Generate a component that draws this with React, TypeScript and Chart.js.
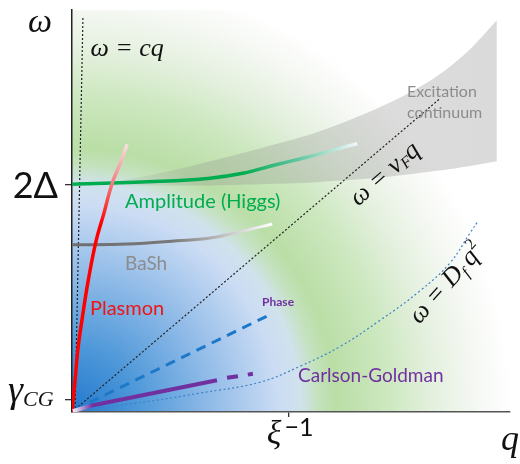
import React, { useEffect, useRef } from "react";
import { Chart, registerables } from "chart.js";
Chart.register(...registerables);

// ---------- data (axis units: q 0..10, ω 0..10) ----------
const X_RANGE = [0, 10];
const Y_RANGE = [0, 10];

const xTickValues = [4.95]; // ξ^-1
const yTickValues = [0.3, 5.67]; // γ_CG, 2Δ

const lightCone = [
  { x: 0.07, y: 0 },
  { x: 0.25, y: 9.83 },
];
const fermiLine = [
  { x: 0, y: 0 },
  { x: 8.4, y: 7.8 },
];
const diffusionCurve = [
  { x: 0, y: 0 },
  { x: 1.78, y: 0.27 },
  { x: 2.92, y: 0.47 },
  { x: 4.29, y: 0.74 },
  { x: 5.21, y: 1.14 },
  { x: 6.12, y: 1.63 },
  { x: 7.03, y: 2.28 },
  { x: 7.95, y: 3.02 },
  { x: 8.63, y: 3.71 },
  { x: 9.09, y: 4.46 },
  { x: 9.27, y: 4.75 },
];
const higgsMode = [
  { x: 0, y: 5.67 },
  { x: 2.01, y: 5.74 },
  { x: 3.15, y: 5.82 },
  { x: 3.9, y: 5.94 },
  { x: 4.68, y: 6.16 },
  { x: 5.43, y: 6.36 },
  { x: 6.51, y: 6.68 },
];
const bashMode = [
  { x: 0, y: 4.16 },
  { x: 1.26, y: 4.18 },
  { x: 2.4, y: 4.26 },
  { x: 3.15, y: 4.33 },
  { x: 3.9, y: 4.5 },
  { x: 4.57, y: 4.68 },
];
const plasmonMode = [
  { x: 0, y: 0 },
  { x: 0.07, y: 0.79 },
  { x: 0.14, y: 1.61 },
  { x: 0.25, y: 2.45 },
  { x: 0.37, y: 3.27 },
  { x: 0.55, y: 4.26 },
  { x: 0.73, y: 4.95 },
  { x: 0.91, y: 5.67 },
  { x: 1.1, y: 6.19 },
  { x: 1.26, y: 6.66 },
];
const phaseMode = [
  { x: 0.05, y: 0.05 },
  { x: 4.57, y: 2.45 },
];
const cgModeSolid = [
  { x: 0.02, y: 0.02 },
  { x: 0.48, y: 0.17 },
  { x: 3.31, y: 0.79 },
];
const cgModeDashed = [
  { x: 3.54, y: 0.85 },
  { x: 4.13, y: 0.95 },
];
const continuumX = [0.64, 2.01, 3.15, 4.29, 5.59, 7.1, 8.24, 9.02, 9.7];
const continuumLow = [5.64, 5.64, 5.64, 5.67, 5.72, 5.84, 5.99, 6.11, 6.24];
const continuumHigh = [5.67, 5.94, 6.24, 6.56, 6.96, 7.62, 8.29, 8.96, 9.75];

// ---------- styling ----------
const SERIF = '"Liberation Serif", "DejaVu Serif", serif';
const SANS = 'Lato, "Open Sans", sans-serif';
const GREEN = "rgb(0,172,80)";
const PURPLE = "rgb(112,48,160)";
const GRAY_TXT = "rgb(140,140,140)";

type Run = { t: string; font: string; dy?: number };

function drawRuns(
  ctx: CanvasRenderingContext2D,
  runs: Run[],
  x: number,
  y: number,
  align: "left" | "center" | "right",
  color: string
) {
  ctx.save();
  ctx.fillStyle = color;
  ctx.textBaseline = "alphabetic";
  ctx.textAlign = "left";
  let total = 0;
  const ws = runs.map((r) => {
    ctx.font = r.font;
    const w = ctx.measureText(r.t).width;
    total += w;
    return w;
  });
  let cx = align === "left" ? x : align === "center" ? x - total / 2 : x - total;
  runs.forEach((r, i) => {
    ctx.font = r.font;
    ctx.fillText(r.t, cx, y + (r.dy || 0));
    cx += ws[i];
  });
  ctx.restore();
}

type Note = {
  runs: Run[];
  x: number;
  y: number;
  color: string;
  align: "left" | "center" | "right";
  angle?: number;
  middle?: boolean;
};

const notes: Note[] = [
  { runs: [{ t: "ω = cq", font: `italic 26px ${SERIF}` }], x: 0.42, y: 8.85, color: "#111", align: "left" },
  { runs: [{ t: "Amplitude (Higgs)", font: `20px ${SANS}` }], x: 1.21, y: 5.25, color: GREEN, align: "left", middle: true },
  { runs: [{ t: "BaSh", font: `19px ${SANS}` }], x: 1.21, y: 3.71, color: GRAY_TXT, align: "left", middle: true },
  { runs: [{ t: "Plasmon", font: `20px ${SANS}` }], x: 0.41, y: 2.6, color: "rgb(240,20,20)", align: "left", middle: true },
  { runs: [{ t: "Phase", font: `bold 12px ${SANS}` }], x: 4.34, y: 2.8, color: PURPLE, align: "left", middle: true },
  { runs: [{ t: "Carlson-Goldman", font: `19px ${SANS}` }], x: 5.16, y: 0.92, color: PURPLE, align: "left", middle: true },
  { runs: [{ t: "Excitation", font: `16px ${SANS}` }], x: 7.65, y: 8.02, color: GRAY_TXT, align: "left", middle: true },
  { runs: [{ t: "continuum", font: `16px ${SANS}` }], x: 7.65, y: 7.48, color: GRAY_TXT, align: "left", middle: true },
  {
    runs: [
      { t: "ω = v", font: `italic 26px ${SERIF}` },
      { t: "F", font: `italic 16px ${SERIF}`, dy: 3 },
      { t: "q", font: `italic 26px ${SERIF}` },
    ],
    x: 7.15,
    y: 5.92,
    color: "#111",
    align: "center",
    angle: -41,
  },
  {
    runs: [
      { t: "ω = D", font: `italic 26px ${SERIF}` },
      { t: "f", font: `italic 16px ${SERIF}`, dy: 5 },
      { t: "\u2009q", font: `italic 26px ${SERIF}` },
      { t: "2", font: `16px ${SERIF}`, dy: -11 },
    ],
    x: 8.56,
    y: 3.2,
    color: "#111",
    align: "center",
    angle: -48,
  },
];

const bgPlugin = {
  id: "bgGradient",
  beforeDraw(chart: any) {
    const { ctx, chartArea: a, scales } = chart;
    if (!a) return;
    const cx = scales.x.getPixelForValue(0);
    const cy = scales.y.getPixelForValue(0);
    const R = 440;
    const g = ctx.createRadialGradient(cx, cy, 0, cx, cy, R);
    g.addColorStop(0, "rgb(35,120,205)");
    g.addColorStop(0.15, "rgb(78,152,217)");
    g.addColorStop(0.33, "rgb(150,190,233)");
    g.addColorStop(0.47, "rgb(203,220,244)");
    g.addColorStop(0.52, "rgb(208,226,236)");
    g.addColorStop(0.56, "rgb(196,226,190)");
    g.addColorStop(0.6, "rgb(186,222,166)");
    g.addColorStop(0.72, "rgb(205,232,192)");
    g.addColorStop(0.82, "rgb(228,240,222)");
    g.addColorStop(0.92, "rgb(245,248,243)");
    g.addColorStop(1, "rgb(255,255,255)");
    ctx.save();
    ctx.fillStyle = "#fff";
    ctx.fillRect(0, 0, chart.width, chart.height);
    ctx.fillStyle = g;
    ctx.fillRect(a.left, a.top, a.right - a.left, a.bottom - a.top);
    ctx.restore();
  },
};

const labelPlugin = {
  id: "mathLabels",
  afterDraw(chart: any) {
    const { ctx, chartArea: a, scales } = chart;
    const xs = scales.x;
    const ys = scales.y;
    // axis names
    drawRuns(ctx, [{ t: "ω", font: `italic 34px ${SERIF}` }], a.left - 32, a.top + 22, "center", "#111");
    drawRuns(ctx, [{ t: "q", font: `italic 36px ${SERIF}` }], a.right + 9, a.bottom + 38, "right", "#111");
    // y tick labels
    drawRuns(ctx, [{ t: "2Δ", font: `36px ${SANS}` }], a.left - 14, ys.getPixelForValue(yTickValues[1]) + 14, "right", "#111");
    drawRuns(
      ctx,
      [
        { t: "γ", font: `italic 38px ${SERIF}` },
        { t: "CG", font: `italic 22px ${SERIF}`, dy: 4 },
      ],
      a.left - 64,
      ys.getPixelForValue(yTickValues[0]) + 2,
      "left",
      "#111"
    );
    // x tick label
    drawRuns(
      ctx,
      [
        { t: "ξ", font: `italic 34px ${SERIF}` },
        { t: "\u2009−1", font: `25px ${SANS}`, dy: -8 },
      ],
      xs.getPixelForValue(xTickValues[0]) - 22,
      a.bottom + 32,
      "left",
      "#111"
    );
    // notes
    notes.forEach((n) => {
      const px = xs.getPixelForValue(n.x);
      const py = ys.getPixelForValue(n.y);
      if (n.angle !== undefined) {
        ctx.save();
        ctx.translate(px, py);
        ctx.rotate((n.angle * Math.PI) / 180);
        drawRuns(ctx, n.runs, 0, 7, n.align, n.color);
        ctx.restore();
      } else {
        drawRuns(ctx, n.runs, px, py + (n.middle ? 7 : 0), n.align, n.color);
      }
    });
  },
};

function hGrad(chart: any, x0: number, x1: number, stops: [number, string][], fallback: string) {
  const { chartArea, scales } = chart;
  if (!chartArea || !scales.x) return fallback;
  const p0 = scales.x.getPixelForValue(x0);
  const p1 = scales.x.getPixelForValue(x1);
  const g = chart.ctx.createLinearGradient(p0, 0, p1, 0);
  stops.forEach(([o, c]) => g.addColorStop(o, c));
  return g;
}
function vGrad(chart: any, y0: number, y1: number, stops: [number, string][], fallback: string) {
  const { chartArea, scales } = chart;
  if (!chartArea || !scales.y) return fallback;
  const p0 = scales.y.getPixelForValue(y0);
  const p1 = scales.y.getPixelForValue(y1);
  const g = chart.ctx.createLinearGradient(0, p0, 0, p1);
  stops.forEach(([o, c]) => g.addColorStop(o, c));
  return g;
}

export default function App() {
  const ref = useRef<HTMLCanvasElement>(null);
  useEffect(() => {
    if (!ref.current) return;
    const line = { showLine: true, pointRadius: 0, fill: false, tension: 0.4 };
    const chart = new Chart(ref.current, {
      type: "scatter",
      data: {
        datasets: [
          {
            ...line,
            label: "Carlson-Goldman",
            data: cgModeSolid,
            borderWidth: 4,
            tension: 0,
            borderColor: (c: any) =>
              hGrad(c.chart, 0, 3.31, [[0, "rgba(255,255,255,1)"], [0.14, PURPLE], [1, PURPLE]], PURPLE),
          },
          { ...line, label: "CG dashed", data: cgModeDashed, borderWidth: 4, tension: 0, borderColor: PURPLE, borderDash: [11, 10] },
          { ...line, label: "Phase", data: phaseMode, borderWidth: 3, tension: 0, borderColor: "rgb(30,120,200)", borderDash: [10, 7] },
          {
            ...line,
            label: "Plasmon",
            data: plasmonMode,
            borderWidth: 3.5,
            borderColor: (c: any) =>
              vGrad(c.chart, 0, 6.66, [[0, "rgb(255,0,0)"], [0.7, "rgb(255,0,0)"], [0.86, "rgb(240,130,130)"], [1, "rgb(250,225,225)"]], "red"),
          },
          {
            ...line,
            label: "Amplitude (Higgs)",
            data: higgsMode,
            borderWidth: 3.5,
            borderColor: (c: any) =>
              hGrad(c.chart, 0, 6.51, [[0, GREEN], [0.6, GREEN], [0.78, "rgb(90,195,155)"], [1, "rgb(240,248,250)"]], GREEN),
          },
          {
            ...line,
            label: "BaSh",
            data: bashMode,
            borderWidth: 3,
            borderColor: (c: any) =>
              hGrad(c.chart, 0, 4.57, [[0, "rgb(110,110,110)"], [0.5, "rgb(120,120,120)"], [0.8, "rgb(205,205,205)"], [1, "rgb(255,255,255)"]], "gray"),
          },
          { ...line, label: "ω = cq", data: lightCone, borderWidth: 1.2, tension: 0, borderColor: "#222", borderDash: [2, 2] },
          { ...line, label: "ω = vF q", data: fermiLine, borderWidth: 1.2, tension: 0, borderColor: "#222", borderDash: [2, 2] },
          { ...line, label: "ω = Df q²", data: diffusionCurve, borderWidth: 1.2, borderColor: "rgb(60,130,200)", borderDash: [2, 2.5] },
          {
            ...line,
            label: "continuum low",
            data: continuumX.map((x, i) => ({ x, y: continuumLow[i] })),
            borderWidth: 0,
            tension: 0.3,
            borderColor: "rgba(0,0,0,0)",
          },
          {
            ...line,
            label: "Excitation continuum",
            data: continuumX.map((x, i) => ({ x, y: continuumHigh[i] })),
            borderWidth: 0,
            tension: 0.3,
            borderColor: "rgba(0,0,0,0)",
            fill: "-1",
            backgroundColor: (c: any) =>
              hGrad(c.chart, 0.64, 9.7, [[0, "rgba(140,140,140,0.05)"], [0.25, "rgba(140,140,140,0.28)"], [1, "rgba(140,140,140,0.32)"]], "rgba(140,140,140,0.3)"),
          },
        ],
      },
      options: {
        responsive: false,
        animation: false,
        events: [],
        layout: { padding: { top: 8, right: 10, left: 0, bottom: 0 } },
        plugins: { legend: { display: false }, tooltip: { enabled: false }, title: { display: false } },
        scales: {
          x: {
            type: "linear",
            min: X_RANGE[0],
            max: X_RANGE[1],
            afterFit: (s: any) => {
              s.height = 52;
            },
            afterBuildTicks: (s: any) => {
              s.ticks = xTickValues.map((v) => ({ value: v }));
            },
            ticks: { callback: () => "", autoSkip: false },
            grid: { display: true, drawOnChartArea: false, drawTicks: true, tickLength: 5, color: "#333", lineWidth: 1.3 },
            border: { display: true, color: "#555", width: 1.5 },
          },
          y: {
            type: "linear",
            min: Y_RANGE[0],
            max: Y_RANGE[1],
            afterFit: (s: any) => {
              s.width = 72;
            },
            afterBuildTicks: (s: any) => {
              s.ticks = yTickValues.map((v) => ({ value: v }));
            },
            ticks: { callback: () => "", autoSkip: false },
            grid: { display: true, drawOnChartArea: false, drawTicks: true, tickLength: 7, color: "#333", lineWidth: 1.3 },
            border: { display: true, color: "#222", width: 1.5 },
          },
        },
      },
      plugins: [bgPlugin, labelPlugin],
    } as any);
    return () => chart.destroy();
  }, []);
  return (
    <div style={{ position: "absolute", left: 0, top: 0, width: 520, height: 464, background: "#fff" }}>
      <canvas ref={ref} width={520} height={464} style={{ display: "block" }} />
    </div>
  );
}
